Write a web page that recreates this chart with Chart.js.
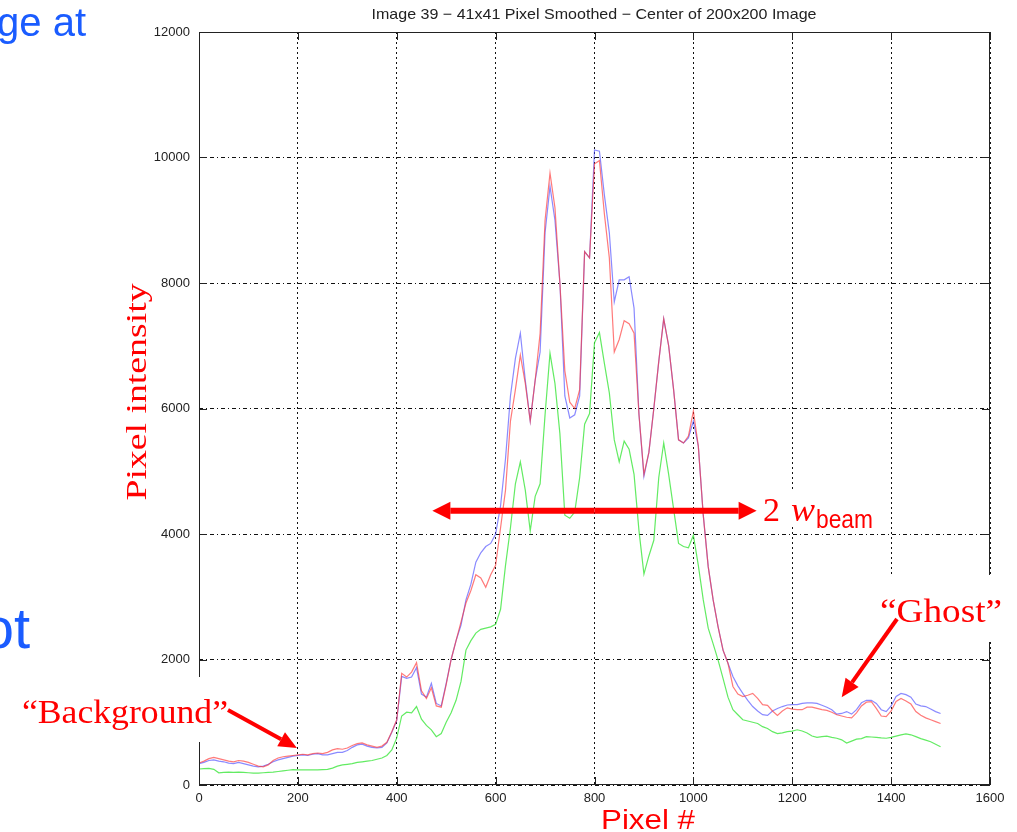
<!DOCTYPE html>
<html>
<head>
    <title>Image 39 - Pixel intensity</title>
    <script src="https://cdn.jsdelivr.net/npm/chart.js"></script>
    <style>
        body { margin: 0; background: #fff; }
    </style>
</head>
<body>
    <canvas id="myChart" width="1017" height="832"></canvas>

    <script>
        // pixel positions (x axis), one sample every 10 pixels
        var pixels = [
            0, 10, 20, 30, 40, 50, 60, 70, 80, 90,
            100, 110, 120, 130, 140, 150, 160, 170, 180, 190,
            200, 210, 220, 230, 240, 250, 260, 270, 280, 290,
            300, 310, 320, 330, 340, 350, 360, 370, 380, 390,
            400, 410, 420, 430, 440, 450, 460, 470, 480, 490,
            500, 510, 520, 530, 540, 550, 560, 570, 580, 590,
            600, 610, 620, 630, 640, 650, 660, 670, 680, 690,
            700, 710, 720, 730, 740, 750, 760, 770, 780, 790,
            800, 810, 820, 830, 840, 850, 860, 870, 880, 890,
            900, 910, 920, 930, 940, 950, 960, 970, 980, 990,
            1000, 1010, 1020, 1030, 1040, 1050, 1060, 1070, 1080, 1090,
            1100, 1110, 1120, 1130, 1140, 1150, 1160, 1170, 1180, 1190,
            1200, 1210, 1220, 1230, 1240, 1250, 1260, 1270, 1280, 1290,
            1300, 1310, 1320, 1330, 1340, 1350, 1360, 1370, 1380, 1390,
            1400, 1410, 1420, 1430, 1440, 1450, 1460, 1470, 1480, 1490,
            1500
        ];

        var redValues = [
            350, 380, 420, 440, 420, 400, 380, 370, 390, 380,
            360, 330, 300, 290, 320, 390, 430, 450, 460, 470,
            480, 490, 480, 500, 510, 500, 520, 560, 580, 570,
            590, 630, 660, 670, 640, 620, 600, 620, 680, 850,
            1040, 1780, 1720, 1800, 1950, 1500, 1380, 1550, 1260, 1240,
            1600, 2000, 2300, 2600, 2900, 3100, 3350, 3300, 3150, 3350,
            3500, 4100, 4700, 5800, 6300, 6850, 6400, 5800, 6450, 7200,
            9000, 9750, 9200, 8000, 6600, 6100, 6000, 6300, 8500, 8400,
            9900, 9950, 9100, 8400, 6900, 7100, 7400, 7350, 7200, 5900,
            4950, 5300, 6000, 6750, 7430, 7000, 6300, 5500, 5450, 5560,
            5960, 5400, 4300, 3480, 2950, 2520, 2150, 1940, 1570, 1450,
            1410, 1430, 1460, 1380, 1280, 1270, 1180, 1110, 1180, 1230,
            1210, 1200, 1200, 1240, 1240, 1220, 1200, 1190, 1160, 1120,
            1100, 1080, 1070, 1150, 1260, 1320, 1330, 1220, 1100, 1090,
            1180, 1330, 1380, 1340, 1290, 1170, 1110, 1070, 1040, 1010,
            980
        ];

        var blueValues = [
            340, 360, 390, 400, 380, 370, 350, 340, 360, 340,
            320, 300, 290, 300, 330, 370, 400, 420, 440, 460,
            470, 480, 470, 490, 500, 480, 480, 500, 520, 520,
            550, 600, 640, 650, 620, 600, 590, 600, 670, 840,
            1030, 1730, 1700, 1720, 1870, 1450, 1400, 1620, 1300, 1260,
            1620, 2000, 2300, 2550, 2950, 3200, 3550, 3700, 3800, 3850,
            4000, 4450, 5200, 6200, 6800, 7200, 6450, 5800, 6450, 6900,
            8800, 9540, 9000, 8000, 6200, 5850, 5900, 6200, 8500, 8400,
            10120, 10100, 9400, 8800, 7700, 8050, 8050, 8100, 7600, 5900,
            4920, 5300, 6000, 6750, 7430, 7000, 6300, 5500, 5450, 5530,
            5800, 5400, 4300, 3480, 2950, 2520, 2150, 1940, 1730, 1580,
            1460, 1350, 1250, 1180, 1120, 1110, 1180, 1220, 1250, 1275,
            1280, 1280, 1300, 1310, 1310, 1300, 1270, 1240, 1200, 1130,
            1140, 1170, 1130, 1200, 1310, 1350, 1350, 1300, 1200, 1170,
            1260, 1410, 1460, 1440, 1400, 1290, 1260, 1250, 1210, 1170,
            1140
        ];

        var greenValues = [
            255, 260, 265, 250, 195, 200, 205, 200, 205, 200,
            195, 190, 190, 195, 200, 205, 215, 225, 235, 245,
            240, 240, 240, 240, 240, 245, 250, 270, 300, 320,
            330, 340, 360, 370, 380, 390, 410, 430, 470, 560,
            750, 1100, 1160, 1150, 1250, 1050, 950, 880, 770, 820,
            1000, 1150, 1350, 1650, 2150, 2300, 2420, 2480, 2500, 2520,
            2560, 2800, 3500, 4100, 4800, 5150, 4700, 4050, 4600, 4800,
            5900, 6880, 6400, 5600, 4300, 4250, 4350, 4900, 5750, 5920,
            7050, 7210, 6720, 6250, 5500, 5150, 5480, 5350, 4950, 4050,
            3360, 3650, 3900, 4900, 5450, 4950, 4400, 3850, 3800, 3780,
            3980, 3500, 2950, 2500, 2250, 1990, 1700, 1400, 1200, 1120,
            1040, 1020, 1000, 980, 930, 900, 850, 820, 830, 850,
            860, 880, 860, 830, 780, 760, 770, 780, 760, 745,
            720, 670, 700, 730, 740, 770, 765, 760, 750, 745,
            760, 780, 800, 815, 800, 770, 740, 715, 690, 650,
            610
        ];

        var xTicks = [0, 200, 400, 600, 800, 1000, 1200, 1400, 1600];
        var yTicks = [0, 2000, 4000, 6000, 8000, 10000, 12000];

        function points(values) {
            return values.map(function (v, i) { return { x: pixels[i], y: v }; });
        }

        // stretch a string to a given width (the slide text is stretched)
        function fitText(ctx, str, x, y, w, font, color, align) {
            ctx.save();
            ctx.font = font;
            ctx.fillStyle = color;
            ctx.textBaseline = 'alphabetic';
            ctx.textAlign = 'left';
            var m = ctx.measureText(str).width;
            ctx.translate(x, y);
            ctx.scale(w / m, 1);
            var off = align === 'center' ? -m / 2 : (align === 'right' ? -m : 0);
            ctx.fillText(str, off, 0);
            ctx.restore();
        }

        function arrow(ctx, x1, y1, x2, y2, width, headLen, headW) {
            var a = Math.atan2(y2 - y1, x2 - x1);
            var bx = x2 - headLen * Math.cos(a), by = y2 - headLen * Math.sin(a);
            ctx.save();
            ctx.strokeStyle = '#ff0000';
            ctx.fillStyle = '#ff0000';
            ctx.lineWidth = width;
            ctx.beginPath();
            ctx.moveTo(x1, y1);
            ctx.lineTo(bx, by);
            ctx.stroke();
            ctx.beginPath();
            ctx.moveTo(x2, y2);
            ctx.lineTo(bx + headW * Math.sin(a), by - headW * Math.cos(a));
            ctx.lineTo(bx - headW * Math.sin(a), by + headW * Math.cos(a));
            ctx.closePath();
            ctx.fill();
            ctx.restore();
        }

        var overlay = {
            id: 'overlay',
            afterDraw: function (chart) {
                var ctx = chart.ctx;
                var a = chart.chartArea;
                var xs = chart.scales.x, ys = chart.scales.y;

                // box and inward ticks
                ctx.save();
                ctx.strokeStyle = '#222';
                ctx.lineWidth = 1;
                ctx.strokeRect(a.left + 0.5, a.top + 0.5, a.right - a.left - 1, a.bottom - a.top - 1);
                ctx.beginPath();
                xTicks.forEach(function (t) {
                    var px = Math.round(xs.getPixelForValue(t)) + 0.5;
                    ctx.moveTo(px, a.top); ctx.lineTo(px, a.top + 8);
                    ctx.moveTo(px, a.bottom); ctx.lineTo(px, a.bottom - 8);
                });
                yTicks.forEach(function (t) {
                    var py = Math.round(ys.getPixelForValue(t)) + 0.5;
                    ctx.moveTo(a.left, py); ctx.lineTo(a.left + 8, py);
                    ctx.moveTo(a.right, py); ctx.lineTo(a.right - 8, py);
                });
                ctx.stroke();

                // white boxes behind the slide labels
                ctx.fillStyle = '#fff';
                ctx.fillRect(15, 677, 220, 65);
                ctx.fillRect(870, 575, 147, 67);
                ctx.fillRect(760, 490, 118, 37);
                ctx.restore();

                // title
                fitText(ctx, 'Image 39 \u2212 41x41 Pixel Smoothed \u2212 Center of 200x200 Image',
                    594, 19, 445, '15px "Liberation Sans", Arial, sans-serif', '#222', 'center');

                // axis titles
                ctx.save();
                ctx.translate(146, 392);
                ctx.rotate(-Math.PI / 2);
                fitText(ctx, 'Pixel intensity', 0, 0, 217, '30px "Liberation Serif", "Times New Roman", serif', '#ff0000', 'center');
                ctx.restore();
                fitText(ctx, 'Pixel #', 648, 829, 94, '28px "Liberation Sans", Arial, sans-serif', '#ff0000', 'center');

                // annotations
                fitText(ctx, '\u201cBackground\u201d', 22, 723, 206, '34px "Liberation Serif", "Times New Roman", serif', '#ff0000', 'left');
                fitText(ctx, '\u201cGhost\u201d', 880, 622, 122, '34px "Liberation Serif", "Times New Roman", serif', '#ff0000', 'left');
                fitText(ctx, '2', 763, 521, 17, '34px "Liberation Serif", "Times New Roman", serif', '#ff0000', 'left');
                fitText(ctx, 'w', 791, 521, 24, 'italic 34px "Liberation Serif", "Times New Roman", serif', '#ff0000', 'left');
                fitText(ctx, 'beam', 816, 528, 57, '26px "Liberation Sans", Arial, sans-serif', '#ff0000', 'left');

                // arrows, tips placed on the data scales
                var bgX = xs.getPixelForValue(198), bgY = ys.getPixelForValue(590);
                arrow(ctx, 228, 710, bgX, bgY, 4, 18, 8);
                var ghX = xs.getPixelForValue(1300), ghY = ys.getPixelForValue(1400);
                arrow(ctx, 897, 619, ghX, ghY, 4, 18, 8);
                var wY = ys.getPixelForValue(4370);
                var wL = xs.getPixelForValue(472), wR = xs.getPixelForValue(1128);
                var mid = (wL + wR) / 2;
                arrow(ctx, mid, wY, wL, wY, 6, 18, 9);
                arrow(ctx, mid, wY, wR, wY, 6, 18, 9);

                // slide text cut off at the left edge
                ctx.save();
                ctx.fillStyle = '#1a5cff';
                ctx.font = '40px "Liberation Sans", Arial, sans-serif';
                ctx.textAlign = 'right';
                ctx.fillText('ge at', 86, 36);
                ctx.font = '58px "Liberation Sans", Arial, sans-serif';
                ctx.fillText('ot', 30, 648);
                ctx.restore();
            }
        };

        var tickFont = { family: '"Liberation Sans", Arial, sans-serif', size: 13 };

        var ctx = document.getElementById('myChart').getContext('2d');
        var myChart = new Chart(ctx, {
            type: 'line',
            data: {
                datasets: [
                    { label: 'green', data: points(greenValues), borderColor: 'rgba(60, 230, 60, 0.8)' },
                    { label: 'red', data: points(redValues), borderColor: 'rgba(255, 50, 50, 0.65)' },
                    { label: 'blue', data: points(blueValues), borderColor: 'rgba(60, 60, 255, 0.6)' }
                ]
            },
            options: {
                responsive: false,
                animation: false,
                devicePixelRatio: 1,
                layout: { padding: { top: 32, right: 27, bottom: 0, left: 0 } },
                elements: {
                    point: { radius: 0 },
                    line: { borderWidth: 1.2, tension: 0 }
                },
                plugins: {
                    legend: { display: false },
                    tooltip: { enabled: false }
                },
                scales: {
                    x: {
                        type: 'linear',
                        min: 0,
                        max: 1600,
                        afterBuildTicks: function (s) { s.ticks = xTicks.map(function (v) { return { value: v }; }); },
                        afterFit: function (s) { s.height = 47; },
                        ticks: { color: '#222', padding: 6, maxRotation: 0, font: tickFont, callback: function (v) { return String(v); } },
                        grid: { color: '#111', lineWidth: 1, drawTicks: false },
                        border: { display: false, dash: [2, 3] }
                    },
                    y: {
                        min: 0,
                        max: 12000,
                        afterBuildTicks: function (s) { s.ticks = yTicks.map(function (v) { return { value: v }; }); },
                        afterFit: function (s) { s.width = 199; },
                        ticks: { color: '#222', padding: 9, font: tickFont, callback: function (v) { return String(v); } },
                        grid: { color: '#111', lineWidth: 1, drawTicks: false },
                        border: { display: false, dash: [4, 3, 1, 3] }
                    }
                }
            },
            plugins: [overlay]
        });
    </script>
</body>
</html>
